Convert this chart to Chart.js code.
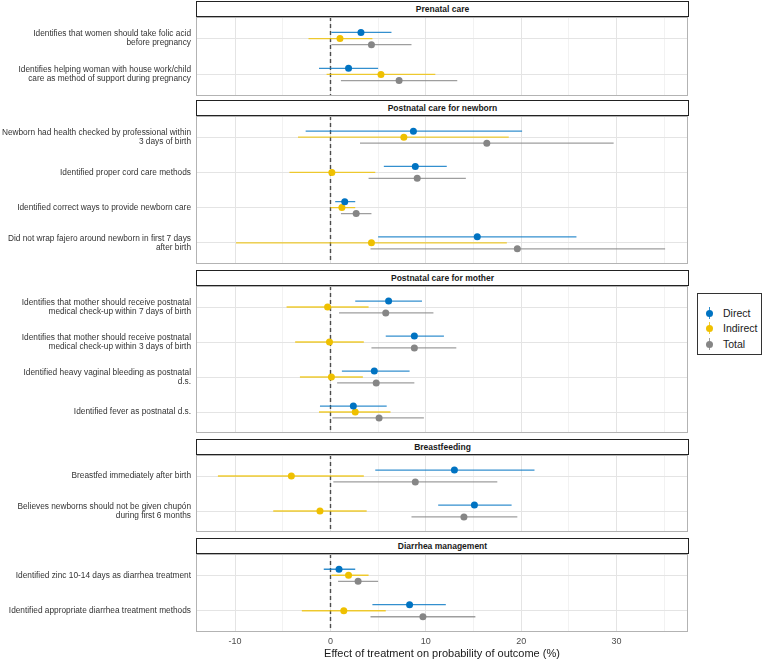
<!DOCTYPE html>
<html>
<head>
<meta charset="utf-8">
<script src="https://cdn.jsdelivr.net/npm/chart.js@4.4.1/dist/chart.umd.min.js"></script>
<style>
    body { margin: 0; background: #fff; font-family: "Liberation Sans", Arial, sans-serif; }
    #figure { position: relative; width: 762px; height: 661px; overflow: hidden; }
    .panel { position: absolute; left: 0; width: 690px; }
    .strip {
        position: absolute; left: 196px; width: 493px; height: 16px;
        box-sizing: border-box; border: 1px solid #222; background: #fff;
        font-weight: bold; font-size: 8.5px; line-height: 14px; color: #1a1a1a; text-align: center;
    }
    #legend {
        position: absolute; left: 697px; top: 293px; width: 65px; height: 62px;
        box-sizing: border-box; border: 1px solid #333; background: #fff;
    }
    .key-row { position: absolute; left: 0; height: 14px; width: 64px; }
    .key-row .bar { position: absolute; left: 11px; top: 1px; width: 1px; height: 12px; }
    .key-row .dot { position: absolute; left: 8px; top: 3.5px; width: 7px; height: 7px; border-radius: 50%; }
    .key-row .txt { position: absolute; left: 25px; top: 0; font-size: 10.5px; line-height: 14px; color: #1a1a1a; }
</style>
</head>
<body>
<div id="figure"></div>
<script>
document.addEventListener('DOMContentLoaded', function() {
    // Facets and outcomes, top to bottom
    const panelNames = ['Prenatal care', 'Postnatal care for newborn', 'Postnatal care for mother', 'Breastfeeding', 'Diarrhea management'];
    const panelSizes = [2, 4, 4, 2, 2];
    const outcomeLabels = [
        ['Identifies that women should take folic acid', 'before pregnancy'],
        ['Identifies helping woman with house work/child', 'care as method of support during pregnancy'],
        ['Newborn had health checked by professional within', '3 days of birth'],
        ['Identified proper cord care methods'],
        ['Identified correct ways to provide newborn care'],
        ['Did not wrap fajero around newborn in first 7 days', 'after birth'],
        ['Identifies that mother should receive postnatal', 'medical check-up within 7 days of birth'],
        ['Identifies that mother should receive postnatal', 'medical check-up within 3 days of birth'],
        ['Identified heavy vaginal bleeding as postnatal', 'd.s.'],
        ['Identified fever as postnatal d.s.'],
        ['Breastfed immediately after birth'],
        ['Believes newborns should not be given chupón', 'during first 6 months'],
        ['Identified zinc 10-14 days as diarrhea treatment'],
        ['Identified appropriate diarrhea treatment methods']
    ];

    // Estimates and intervals (%), one value per outcome
    const directEst   = [3.2, 1.9, 8.7, 8.9, 1.5, 15.4, 6.1, 8.8, 4.6, 2.4, 13.0, 15.1, 0.9, 8.3];
    const directLow   = [0.1, -1.2, -2.6, 5.6, 0.5, 5.0, 2.6, 5.8, 1.2, -1.1, 4.7, 11.3, -0.7, 4.4];
    const directHigh  = [6.4, 5.0, 20.1, 12.2, 2.6, 25.8, 9.6, 11.9, 8.3, 5.9, 21.4, 19.0, 2.6, 12.1];

    const indirectEst  = [1.0, 5.3, 7.7, 0.15, 1.2, 4.3, -0.3, -0.1, 0.1, 2.6, -4.1, -1.1, 1.9, 1.4];
    const indirectLow  = [-2.3, -0.4, -3.4, -4.3, 0.0, -9.9, -4.6, -3.7, -3.2, -1.2, -11.8, -6.0, 0.1, -3.0];
    const indirectHigh = [4.4, 11.0, 18.7, 4.7, 2.6, 18.5, 4.0, 3.5, 3.4, 6.3, 3.5, 3.8, 4.0, 5.8];

    const totalEst  = [4.3, 7.2, 16.4, 9.1, 2.7, 19.6, 5.8, 8.8, 4.8, 5.1, 8.9, 14.0, 2.9, 9.7];
    const totalLow  = [0.1, 1.1, 3.1, 4.0, 1.1, 4.2, 0.9, 4.3, 0.7, 0.2, 0.3, 8.5, 0.8, 4.2];
    const totalHigh = [8.5, 13.3, 29.7, 14.2, 4.3, 35.1, 10.8, 13.2, 8.8, 9.8, 17.5, 19.6, 5.0, 15.2];

    const xTickValues = [-10, -5, 0, 5, 10, 15, 20, 25, 30, 35];
    const X_TITLE = 'Effect of treatment on probability of outcome (%)';

    // Series styling
    const series = [
        { name: 'Direct',   est: directEst,   low: directLow,   high: directHigh,   color: '#0073C2', line: 'rgba(0,115,194,0.8)' },
        { name: 'Indirect', est: indirectEst, low: indirectLow, high: indirectHigh, color: '#EFC000', line: 'rgba(239,192,0,0.8)' },
        { name: 'Total',    est: totalEst,    low: totalLow,    high: totalHigh,    color: '#868686', line: 'rgba(134,134,134,0.8)' }
    ];
    const DODGE = [-0.17, 0, 0.17];

    // Page layout (px)
    const plotTops = [17, 116, 286, 455, 554];
    const plotHeights = [79, 148, 147, 77, 78];
    const STRIP_HEIGHT = 16;
    const AXIS_HEIGHT = 29;
    const LABEL_WIDTH = 196;

    Chart.defaults.font.family = '"Liberation Sans", Arial, sans-serif';

    const figure = document.getElementById('figure');

    // zero reference line + panel border
    const panelDecor = {
        id: 'panelDecor',
        beforeDatasetsDraw(chart) {
            const { ctx, chartArea: a, scales: { x } } = chart;
            const x0 = Math.round(x.getPixelForValue(0)) + 0.5;
            ctx.save();
            ctx.strokeStyle = '#4d4d4d';
            ctx.lineWidth = 1.4;
            ctx.setLineDash([4, 3]);
            ctx.beginPath();
            ctx.moveTo(x0, a.top);
            ctx.lineTo(x0, a.bottom);
            ctx.stroke();
            ctx.restore();
        },
        afterDraw(chart) {
            const { ctx, chartArea: a } = chart;
            ctx.save();
            ctx.strokeStyle = '#b3b3b3';
            ctx.lineWidth = 1;
            ctx.strokeRect(a.left + 0.5, a.top + 0.5, a.right - a.left - 1, a.bottom - a.top - 1);
            ctx.restore();
        }
    };

    let start = 0;
    panelNames.forEach((name, p) => {
        const n = panelSizes[p];
        const labels = outcomeLabels.slice(start, start + n);
        const showAxis = p === panelNames.length - 1;

        const strip = document.createElement('div');
        strip.className = 'strip';
        strip.style.top = (plotTops[p] - STRIP_HEIGHT) + 'px';
        strip.textContent = name;

        const box = document.createElement('div');
        box.className = 'panel';
        box.style.top = plotTops[p] + 'px';
        box.style.height = (plotHeights[p] + (showAxis ? AXIS_HEIGHT : 0)) + 'px';
        const canvas = document.createElement('canvas');
        box.appendChild(canvas);
        figure.appendChild(box);
        figure.appendChild(strip);

        const lineSets = [];
        const pointSets = [];
        series.forEach((s, si) => {
            const segs = [];
            const pts = [];
            for (let i = 0; i < n; i++) {
                const r = start + i;
                const y = i + DODGE[si];
                segs.push({ x: s.low[r], y: y }, { x: s.high[r], y: y }, { x: null, y: null });
                pts.push({ x: s.est[r], y: y });
            }
            lineSets.push({
                label: s.name + ' CI', data: segs, showLine: true, spanGaps: false,
                borderColor: s.line, borderWidth: 1.3, pointRadius: 0, order: 1
            });
            pointSets.push({
                label: s.name, data: pts, backgroundColor: s.color, borderWidth: 0,
                pointRadius: 3.5, order: 0
            });
        });

        new Chart(canvas.getContext('2d'), {
            type: 'scatter',
            data: { datasets: lineSets.concat(pointSets) },
            options: {
                responsive: true,
                maintainAspectRatio: false,
                animation: false,
                events: [],
                layout: { autoPadding: false, padding: { left: 0, right: 2, top: 0, bottom: 0 } },
                plugins: { legend: { display: false }, tooltip: { enabled: false } },
                scales: {
                    x: {
                        type: 'linear', min: -14.1, max: 37.5,
                        afterBuildTicks: scale => { scale.ticks = xTickValues.map(v => ({ value: v })); },
                        afterFit: scale => {
                            scale.height = showAxis ? AXIS_HEIGHT : 0;
                            scale.paddingLeft = 0;
                            scale.paddingRight = 0;
                        },
                        ticks: {
                            display: showAxis, autoSkip: false, maxRotation: 0, padding: 4,
                            color: '#4d4d4d', font: { size: 9 },
                            callback: v => (v % 10 === 0 ? v : '')
                        },
                        grid: {
                            drawTicks: false,
                            color: c => (c.tick && c.tick.value % 10 === 0 ? '#e4e4e4' : '#f2f2f2')
                        },
                        border: { display: false },
                        title: {
                            display: showAxis, text: X_TITLE, color: '#1a1a1a',
                            font: { size: 11 }, padding: { top: 2, bottom: 0 }
                        }
                    },
                    y: {
                        type: 'linear', reverse: true, min: -0.6, max: n - 0.4,
                        afterBuildTicks: scale => { scale.ticks = labels.map((l, i) => ({ value: i })); },
                        afterFit: scale => {
                            scale.width = LABEL_WIDTH;
                            scale.paddingTop = 0;
                            scale.paddingBottom = 0;
                        },
                        ticks: {
                            autoSkip: false, padding: 5, color: '#333',
                            font: { size: 8.3, lineHeight: 1.1 },
                            callback: v => labels[v]
                        },
                        grid: { drawTicks: false, color: '#e4e4e4' },
                        border: { display: false }
                    }
                }
            },
            plugins: [panelDecor]
        });

        start += n;
    });

    // Legend
    const legend = document.createElement('div');
    legend.id = 'legend';
    const keyTops = [12, 27, 43];
    series.forEach((s, si) => {
        const row = document.createElement('div');
        row.className = 'key-row';
        row.style.top = keyTops[si] + 'px';
        row.innerHTML = `
            <span class="bar" style="background:${s.line}"></span>
            <span class="dot" style="background:${s.color}"></span>
            <span class="txt">${s.name}</span>
        `;
        legend.appendChild(row);
    });
    figure.appendChild(legend);
});
</script>
</body>
</html>
